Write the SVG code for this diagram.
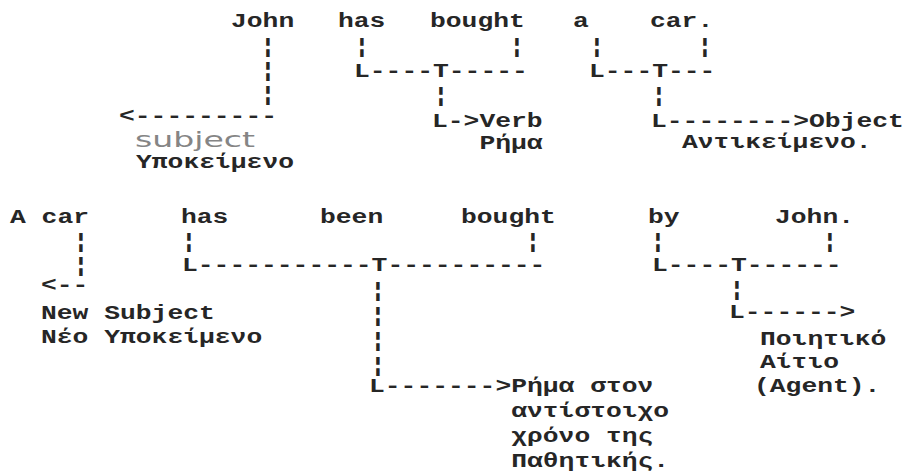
<svg xmlns="http://www.w3.org/2000/svg" width="903" height="473" viewBox="0 0 903 473">
<style>
.t{font-family:"Liberation Mono","DejaVu Sans Mono",monospace;font-weight:bold;font-size:19.5px;fill:#262626}
.c{font-family:"Liberation Mono","DejaVu Sans Mono",monospace;font-weight:bold;font-size:19.5px;fill:#262626}
.s{font-family:"DejaVu Sans","Liberation Sans",sans-serif;font-size:21px;fill:#858585}
</style>
<rect width="903" height="473" fill="#fff"/>
<g id="connectors">
  <text class="c" x="260" y="53" textLength="15.8" lengthAdjust="spacingAndGlyphs">¦</text>
  <text class="c" x="260" y="77" textLength="15.8" lengthAdjust="spacingAndGlyphs">¦</text>
  <text class="c" x="260" y="101" textLength="15.8" lengthAdjust="spacingAndGlyphs">¦</text>
  <text class="c" x="354" y="53" textLength="15.8" lengthAdjust="spacingAndGlyphs">¦</text>
  <text class="c" x="509" y="53" textLength="15.8" lengthAdjust="spacingAndGlyphs">¦</text>
  <text class="c" x="589" y="53" textLength="15.8" lengthAdjust="spacingAndGlyphs">¦</text>
  <text class="c" x="697" y="53" textLength="15.8" lengthAdjust="spacingAndGlyphs">¦</text>
  <text class="c" x="354" y="77" textLength="173.8" lengthAdjust="spacingAndGlyphs">L----T-----</text>
  <text class="c" x="589" y="77" textLength="126.4" lengthAdjust="spacingAndGlyphs">L---T---</text>
  <text class="c" x="433" y="102" textLength="15.8" lengthAdjust="spacingAndGlyphs">¦</text>
  <text class="c" x="651" y="102" textLength="15.8" lengthAdjust="spacingAndGlyphs">¦</text>
  <text class="c" x="119" y="122" textLength="158" lengthAdjust="spacingAndGlyphs">&lt;---------</text>
  <text class="c" x="432" y="127" textLength="47.4" lengthAdjust="spacingAndGlyphs">L-&gt;</text>
  <text class="c" x="651" y="127" textLength="158" lengthAdjust="spacingAndGlyphs">L--------&gt;</text>
  <text class="c" x="73" y="248" textLength="15.8" lengthAdjust="spacingAndGlyphs">¦</text>
  <text class="c" x="73" y="272" textLength="15.8" lengthAdjust="spacingAndGlyphs">¦</text>
  <text class="c" x="181" y="248" textLength="15.8" lengthAdjust="spacingAndGlyphs">¦</text>
  <text class="c" x="525" y="248" textLength="15.8" lengthAdjust="spacingAndGlyphs">¦</text>
  <text class="c" x="650" y="248" textLength="15.8" lengthAdjust="spacingAndGlyphs">¦</text>
  <text class="c" x="822" y="248" textLength="15.8" lengthAdjust="spacingAndGlyphs">¦</text>
  <text class="c" x="182" y="271" textLength="363.4" lengthAdjust="spacingAndGlyphs">L-----------T----------</text>
  <text class="c" x="652" y="271" textLength="189.6" lengthAdjust="spacingAndGlyphs">L----T------</text>
  <text class="c" x="41" y="291" textLength="47.4" lengthAdjust="spacingAndGlyphs">&lt;--</text>
  <text class="c" x="370" y="297" textLength="15.8" lengthAdjust="spacingAndGlyphs">¦</text>
  <text class="c" x="370" y="322" textLength="15.8" lengthAdjust="spacingAndGlyphs">¦</text>
  <text class="c" x="370" y="347" textLength="15.8" lengthAdjust="spacingAndGlyphs">¦</text>
  <text class="c" x="370" y="372" textLength="15.8" lengthAdjust="spacingAndGlyphs">¦</text>
  <text class="c" x="729" y="296" textLength="15.8" lengthAdjust="spacingAndGlyphs">¦</text>
  <text class="c" x="729" y="318" textLength="126.4" lengthAdjust="spacingAndGlyphs">L------&gt;</text>
  <text class="c" x="369" y="392" textLength="142.2" lengthAdjust="spacingAndGlyphs">L-------&gt;</text>
</g>
<g id="s1-john"><text class="t" x="231" y="27" textLength="63.2" lengthAdjust="spacingAndGlyphs">John</text></g>
<g id="s1-has"><text class="t" x="338" y="27" textLength="47.4" lengthAdjust="spacingAndGlyphs">has</text></g>
<g id="s1-bought"><text class="t" x="430" y="27" textLength="94.8" lengthAdjust="spacingAndGlyphs">bought</text></g>
<g id="s1-a"><text class="t" x="573" y="27" textLength="15.8" lengthAdjust="spacingAndGlyphs">a</text></g>
<g id="s1-car"><text class="t" x="650" y="27" textLength="63.2" lengthAdjust="spacingAndGlyphs">car.</text></g>
<g id="s1-subject">
  <text class="s" x="135" y="147" textLength="120" lengthAdjust="spacingAndGlyphs">subject</text>
  <text class="t" x="136" y="168" textLength="158" lengthAdjust="spacingAndGlyphs">Υποκείμενο</text>
</g>
<g id="s1-verb">
  <text class="t" x="479.4" y="127" textLength="63.2" lengthAdjust="spacingAndGlyphs">Verb</text>
  <text class="t" x="479.4" y="149" textLength="63.2" lengthAdjust="spacingAndGlyphs">Ρήμα</text>
</g>
<g id="s1-object">
  <text class="t" x="809" y="127" textLength="94.8" lengthAdjust="spacingAndGlyphs">Object</text>
  <text class="t" x="682" y="148" textLength="189.6" lengthAdjust="spacingAndGlyphs">Αντικείμενο.</text>
</g>
<g id="s2-acar"><text class="t" x="10" y="223" textLength="79" lengthAdjust="spacingAndGlyphs">A car</text></g>
<g id="s2-has"><text class="t" x="181" y="223" textLength="47.4" lengthAdjust="spacingAndGlyphs">has</text></g>
<g id="s2-been"><text class="t" x="320" y="223" textLength="63.2" lengthAdjust="spacingAndGlyphs">been</text></g>
<g id="s2-bought"><text class="t" x="461" y="223" textLength="94.8" lengthAdjust="spacingAndGlyphs">bought</text></g>
<g id="s2-by"><text class="t" x="648" y="223" textLength="31.6" lengthAdjust="spacingAndGlyphs">by</text></g>
<g id="s2-john"><text class="t" x="775" y="223" textLength="79" lengthAdjust="spacingAndGlyphs">John.</text></g>
<g id="s2-newsubject">
  <text class="t" x="41" y="319" textLength="173.8" lengthAdjust="spacingAndGlyphs">New Subject</text>
  <text class="t" x="41" y="343" textLength="221.2" lengthAdjust="spacingAndGlyphs">Νέο Υποκείμενο</text>
</g>
<g id="s2-agent">
  <text class="t" x="760" y="345" textLength="126.4" lengthAdjust="spacingAndGlyphs">Ποιητικό</text>
  <text class="t" x="760" y="368" textLength="79" lengthAdjust="spacingAndGlyphs">Αίτιο</text>
  <text class="t" x="754" y="392" textLength="126.4" lengthAdjust="spacingAndGlyphs">(Agent).</text>
</g>
<g id="s2-verb">
  <text class="t" x="511.2" y="392" textLength="142.2" lengthAdjust="spacingAndGlyphs">Ρήμα στον</text>
  <text class="t" x="511.2" y="417" textLength="158" lengthAdjust="spacingAndGlyphs">αντίστοιχο</text>
  <text class="t" x="511.2" y="442" textLength="142.2" lengthAdjust="spacingAndGlyphs">χρόνο της</text>
  <text class="t" x="511.2" y="467" textLength="158" lengthAdjust="spacingAndGlyphs">Παθητικής.</text>
</g>
</svg>
